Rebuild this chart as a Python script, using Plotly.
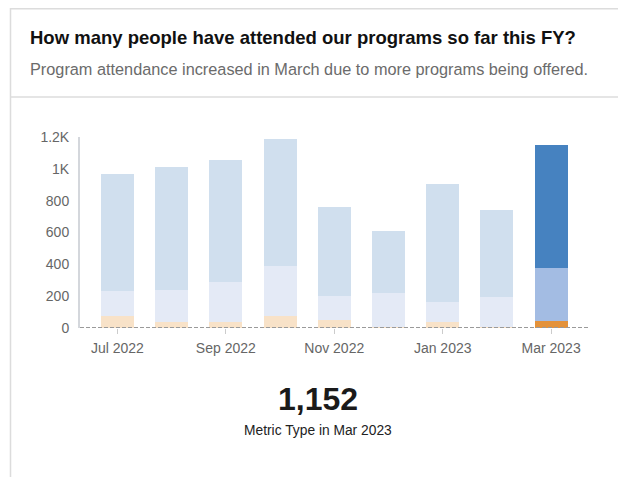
import plotly.graph_objects as go

# ---- data ----
months = ["Jul 2022", "Aug 2022", "Sep 2022", "Oct 2022", "Nov 2022",
          "Dec 2022", "Jan 2023", "Feb 2023", "Mar 2023"]
seg_bottom = [78, 40, 40, 78, 53, 4, 36, 8, 42]          # orange segment
seg_middle = [152, 199, 247, 311, 148, 218, 125, 189, 333]  # lavender segment
seg_top = [740, 770, 766, 796, 557, 385, 741, 542, 777]     # blue segment
y_ticks = [0, 200, 400, 600, 800, 1000, 1200]
y_tick_text = ["0", "200", "400", "600", "800", "1K", "1.2K"]
x_tick_months = months[::2]

title_text = "How many people have attended our programs so far this FY?"
subtitle_text = "Program attendance increased in March due to more programs being offered."
metric_label = "Metric Type in " + months[-1]

# ---- styles ----
OFF = 8  # page body margin
W, H = 626 - OFF, 477 - OFF
L = 80 - OFF
T = 137 - OFF
R = W - (588 - OFF)
B = H - (328 - OFF)
FONT = "Liberation Sans, Arial, sans-serif"

light = {"bottom": "#f8e2c8", "middle": "#e4eaf6", "top": "#d0dfee"}
dark = {"bottom": "#e4923a", "middle": "#a3bce3", "top": "#4682c0"}


def colors(key):
    return [dark[key] if i == len(months) - 1 else light[key] for i in range(len(months))]


def px_x(px):
    return (px - OFF - L) / (W - L - R)


def px_y(py):
    return 1 - (py - OFF - T) / (H - T - B)


fig = go.Figure()
for key, vals in (("bottom", seg_bottom), ("middle", seg_middle), ("top", seg_top)):
    fig.add_trace(go.Bar(
        x=months, y=vals, marker=dict(color=colors(key), line=dict(width=0)),
        width=0.61, showlegend=False, hoverinfo="x+y",
    ))

total_last = seg_bottom[-1] + seg_middle[-1] + seg_top[-1]

fig.update_layout(
    width=W, height=H,
    margin=dict(l=L, r=R, t=T, b=B, pad=0),
    barmode="stack",
    paper_bgcolor="white", plot_bgcolor="white",
    font=dict(family=FONT, color="#666666", size=14),
    xaxis=dict(
        type="category", range=[-0.69, len(months) - 1 + 0.68],
        tickmode="array", tickvals=x_tick_months, ticktext=x_tick_months,
        ticks="outside", ticklen=5, tickcolor="#cccccc", tickwidth=1,
        ticklabelstandoff=2,
        showline=False, showgrid=False, zeroline=False,
        tickfont=dict(size=14, color="#666666"),
    ),
    yaxis=dict(
        range=[0, 1200], tickmode="array", tickvals=y_ticks, ticktext=y_tick_text,
        showgrid=False, zeroline=False, showline=True, linecolor="#d4d7dc", linewidth=2,
        ticks="", ticklabelstandoff=6,
        tickfont=dict(size=14, color="#666666"),
    ),
    shapes=[
        # card border
        dict(type="rect", xref="paper", yref="paper",
             x0=px_x(10.5), x1=px_x(624.5), y0=px_y(520), y1=px_y(8.7),
             line=dict(color="#dcdcdc", width=1.5), layer="below"),
        # header divider
        dict(type="line", xref="paper", yref="paper",
             x0=px_x(10.5), x1=px_x(624.5), y0=px_y(97), y1=px_y(97),
             line=dict(color="#dcdcdc", width=1.5)),
        # dashed zero line
        dict(type="line", xref="paper", yref="y",
             x0=0, x1=1, y0=0, y1=0,
             line=dict(color="#9a9a9a", width=2, dash="4px,2px"), layer="above"),
    ],
    annotations=[
        dict(text="<b>" + title_text + "</b>", xref="paper", yref="paper",
             x=px_x(28), y=px_y(37), xanchor="left", yanchor="middle",
             showarrow=False, font=dict(size=18.5, color="#111111", family=FONT)),
        dict(text=subtitle_text, xref="paper", yref="paper",
             x=px_x(28), y=px_y(69), xanchor="left", yanchor="middle",
             showarrow=False, font=dict(size=16.3, color="#6b6b6b", family=FONT)),
        dict(text="<b>" + f"{total_last:,}" + "</b>", xref="paper", yref="paper",
             x=px_x(317.5), y=px_y(399), xanchor="center", yanchor="middle",
             showarrow=False, font=dict(size=32, color="#1a1a1a", family=FONT)),
        dict(text=metric_label, xref="paper", yref="paper",
             x=px_x(317.5), y=px_y(430), xanchor="center", yanchor="middle",
             showarrow=False, font=dict(size=13.8, color="#222222", family=FONT)),
    ],
)

fig.write_html("out.html")
